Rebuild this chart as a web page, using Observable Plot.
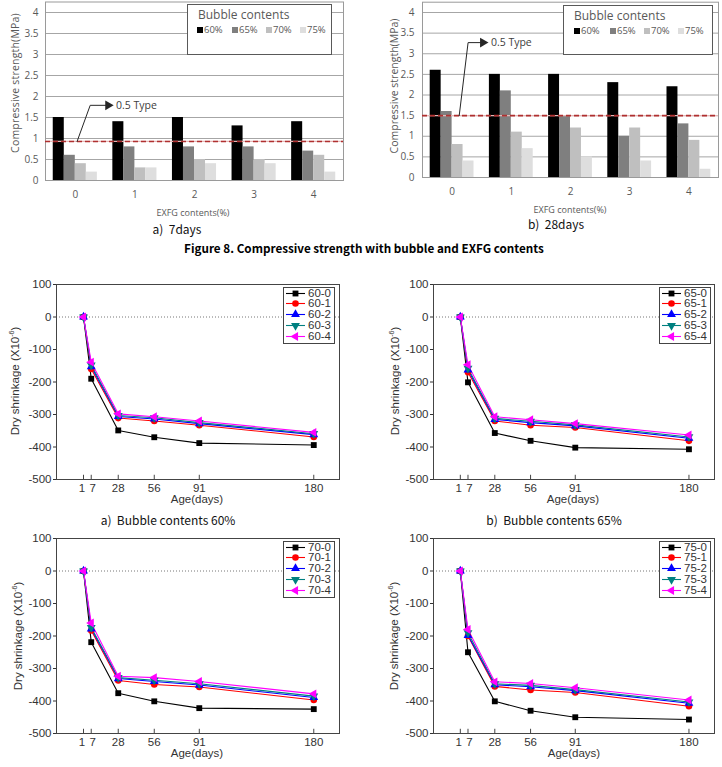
<!DOCTYPE html>
<html><head><meta charset="utf-8">
<script src="https://cdn.jsdelivr.net/npm/d3@7"></script>
<script src="https://cdn.jsdelivr.net/npm/@observablehq/plot@0.6"></script>
<style>
body{margin:0;background:#fff}
#fig{position:relative;width:722px;height:767px;overflow:hidden;background:#fff}
.rot{position:absolute;transform:translate(-50%,-50%) rotate(-90deg);white-space:pre;line-height:1}
.ctr{position:absolute;transform:translate(-50%,-50%);white-space:pre;line-height:1}
.box{position:absolute;background:#fff;box-sizing:border-box}
</style></head><body><div id="fig"></div>
<script>
// ---------- DATA ----------
const exfgGroups = [0, 1, 2, 3, 4];
const bubbleSeries = ["60%", "65%", "70%", "75%"];
const barColors = ["#000000", "#7f7f7f", "#bfbfbf", "#dedede"];
const strengthTicks = [0, 0.5, 1, 1.5, 2, 2.5, 3, 3.5, 4];
// rows: EXFG 0..4, columns: bubble 60,65,70,75 %
const strength7days = [
  [1.5, 0.6, 0.4, 0.2],
  [1.4, 0.8, 0.3, 0.3],
  [1.5, 0.8, 0.5, 0.4],
  [1.3, 0.8, 0.5, 0.4],
  [1.4, 0.7, 0.6, 0.2]
];
const strength28days = [
  [2.6, 1.6, 0.8, 0.4],
  [2.5, 2.1, 1.1, 0.7],
  [2.5, 1.5, 1.2, 0.5],
  [2.3, 1.0, 1.2, 0.4],
  [2.2, 1.3, 0.9, 0.2]
];
const typeLine7days = 0.93;
const typeLine28days = 1.5;
const typeArrow7days = [[0.03, 0.93], [0.25, 1.79], [0.55, 1.79]];
const typeArrow28days = [[0.12, 1.5], [0.27, 3.27], [0.52, 3.27]];

const ages = [1, 7, 28, 56, 91, 180];
const shrinkTicks = [-500, -400, -300, -200, -100, 0, 100];
const shrink60 = [
  [0, -190, -349, -370, -388, -394],
  [0, -160, -311, -320, -333, -369],
  [0, -153, -306, -314, -328, -362],
  [0, -148, -303, -310, -325, -359],
  [0, -139, -298, -307, -320, -355]
];
const shrink65 = [
  [0, -201, -357, -381, -402, -407],
  [0, -170, -320, -333, -340, -381],
  [0, -163, -315, -325, -335, -373],
  [0, -158, -312, -321, -332, -369],
  [0, -147, -307, -316, -328, -363]
];
const shrink70 = [
  [0, -219, -376, -401, -422, -425],
  [0, -183, -337, -349, -357, -397],
  [0, -178, -331, -340, -351, -389],
  [0, -174, -328, -336, -347, -385],
  [0, -160, -324, -328, -340, -378]
];
const shrink75 = [
  [0, -250, -401, -430, -450, -457],
  [0, -200, -355, -366, -374, -416],
  [0, -198, -350, -356, -368, -407],
  [0, -190, -347, -352, -365, -403],
  [0, -180, -341, -346, -359, -397]
];
const lineColors = ["#000000", "#ff0000", "#0000ff", "#008080", "#ff00ff"];
const lineSymbols = ["square", "circle", "triangle", "triangle", "triangle"];
const symbolRotate = [0, 0, 0, 180, -90];

// ---------- HELPERS ----------
const fig = document.getElementById("fig");
function place(el, left, top) {
  el.style.position = "absolute";
  el.style.left = left + "px";
  el.style.top = top + "px";
  fig.appendChild(el);
}
function addText(html, x, y, cls, style) {
  const d = document.createElement("div");
  d.className = cls;
  d.innerHTML = html;
  d.style.left = x + "px";
  d.style.top = y + "px";
  Object.assign(d.style, style || {});
  fig.appendChild(d);
  return d;
}

function barChart(values, typeVal, arrowPts, o) {
  const data = values.flatMap((row, g) => row.map((v, i) => ({g: exfgGroups[g], i, s: bubbleSeries[i], v})));
  const bw = 0.185, half = bw * bubbleSeries.length / 2;
  const end = [arrowPts[arrowPts.length - 1]];
  const svg = Plot.plot({
    width: o.width, height: o.height,
    marginLeft: o.mL, marginRight: o.mR, marginTop: o.mT, marginBottom: o.mB,
    style: {fontFamily: "'Open Sans', sans-serif", fontSize: "10px", color: "#595959", background: "transparent", overflow: "visible"},
    x: {domain: [-0.5, 4.5]},
    y: {domain: [0, 4.25]},
    color: {domain: bubbleSeries, range: barColors},
    marks: [
      Plot.ruleY(strengthTicks, {stroke: "#a6a6a6"}),
      Plot.frame({stroke: "#9a9a9a"}),
      Plot.rect(data, {x1: d => d.g - half + d.i * bw, x2: d => d.g - half + (d.i + 1) * bw, y1: 0, y2: "v", fill: "s"}),
      Plot.ruleY([typeVal], {stroke: "#e6b8b7", strokeWidth: 1.3}),
      Plot.ruleY([typeVal], {stroke: "#b03030", strokeWidth: 1.6, strokeDasharray: "5,3"}),
      Plot.line(arrowPts, {x: d => d[0], y: d => d[1], stroke: "#262626", strokeWidth: 1}),
      Plot.dot(end, {x: d => d[0], y: d => d[1], symbol: "triangle", rotate: 90, r: 3.6, fill: "#262626", stroke: null}),
      Plot.text(end, {x: d => d[0], y: d => d[1], text: () => "0.5 Type", textAnchor: "start", dx: 8, fontSize: 10.5, fill: "#404040"}),
      Plot.axisY(strengthTicks, {tickSize: 0, tickPadding: o.yPad, label: null, tickFormat: d => String(d), fontSize: 10}),
      Plot.axisX(exfgGroups, {tickSize: 0, tickPadding: o.xPad, label: null, tickFormat: d => String(d), fontSize: 10})
    ]
  });
  place(svg, o.left, o.top);
}

function barLegend(left, top, w, h, titleX, titleY, swX, rowY) {
  const box = document.createElement("div");
  box.className = "box";
  Object.assign(box.style, {left: left + "px", top: top + "px", width: w + "px", height: h + "px", border: "1px solid #595959",
    fontFamily: "'Open Sans', sans-serif", color: "#595959"});
  const t = document.createElement("div");
  t.textContent = "Bubble contents";
  Object.assign(t.style, {position: "absolute", left: titleX + "px", top: (titleY - 8) + "px", fontSize: "12px", lineHeight: "16px", whiteSpace: "nowrap"});
  box.appendChild(t);
  bubbleSeries.forEach((s, i) => {
    const sw = document.createElement("div");
    Object.assign(sw.style, {position: "absolute", left: (swX[i] - 3) + "px", top: (rowY - 3) + "px", width: "6px", height: "6px", background: barColors[i]});
    box.appendChild(sw);
    const lb = document.createElement("div");
    lb.textContent = s;
    Object.assign(lb.style, {position: "absolute", left: (swX[i] + 4) + "px", top: (rowY - 7) + "px", fontSize: "9.5px", lineHeight: "14px", whiteSpace: "nowrap"});
    box.appendChild(lb);
  });
  fig.appendChild(box);
}

function lineChart(series, prefix, o) {
  const names = series.map((_, k) => `${prefix}-${k}`);
  const data = series.flatMap((vals, k) => vals.map((v, i) => ({age: ages[i], v, k, name: names[k]})));
  const svg = Plot.plot({
    width: o.width, height: o.height,
    marginLeft: o.mL, marginRight: o.mR, marginTop: o.mT, marginBottom: o.mB,
    style: {fontFamily: "'Liberation Sans', Arial, sans-serif", fontSize: "11px", color: "#333", background: "transparent", overflow: "visible"},
    x: {domain: [-20, 200]},
    y: {domain: [-500, 100]},
    color: {domain: names, range: lineColors},
    symbol: {domain: names, range: lineSymbols},
    marks: [
      Plot.ruleY([0], {stroke: "#777", strokeDasharray: "1,2"}),
      Plot.frame({stroke: "#444"}),
      Plot.ruleX(ages, {x: d => d, y1: -500, y2: -487, stroke: "#444"}),
      Plot.line(data, {x: "age", y: "v", z: "name", stroke: "name", strokeWidth: 1.1}),
      Plot.dot(data, {x: "age", y: "v", symbol: "name", fill: "name", stroke: null, r: 3.3, rotate: d => symbolRotate[d.k]}),
      Plot.axisY(shrinkTicks, {tickSize: 3, tickPadding: 2, label: null, tickFormat: d => String(d), fontSize: 11.5}),
      Plot.axisX(ages.slice(0, 1), {tickSize: 0, tickPadding: 4, label: null, tickFormat: d => String(d), fontSize: 11.5, dx: -1.5}),
      Plot.axisX(ages.slice(1, 2), {tickSize: 0, tickPadding: 4, label: null, tickFormat: d => String(d), fontSize: 11.5, dx: 1.5}),
      Plot.axisX(ages.slice(2), {tickSize: 0, tickPadding: 4, label: null, tickFormat: d => String(d), fontSize: 11.5})
    ]
  });
  place(svg, o.left, o.top);
  // legend box
  const box = document.createElement("div");
  box.className = "box";
  Object.assign(box.style, {left: o.legX + "px", top: o.legY + "px", width: "52px", height: "57px", border: "1px solid #444",
    fontFamily: "'Liberation Sans', Arial, sans-serif", color: "#333"});
  const syms = {square: d3.symbolSquare, circle: d3.symbolCircle, triangle: d3.symbolTriangle};
  names.forEach((n, k) => {
    const cy = 5 + k * 10.8;
    const ns = "http://www.w3.org/2000/svg";
    const s = document.createElementNS(ns, "svg");
    s.setAttribute("width", 22); s.setAttribute("height", 11);
    Object.assign(s.style, {position: "absolute", left: "1px", top: (cy - 5.5) + "px"});
    const ln = document.createElementNS(ns, "line");
    ln.setAttribute("x1", 1); ln.setAttribute("x2", 20); ln.setAttribute("y1", 5.5); ln.setAttribute("y2", 5.5);
    ln.setAttribute("stroke", lineColors[k]); ln.setAttribute("stroke-width", 1.1);
    s.appendChild(ln);
    const p = document.createElementNS(ns, "path");
    p.setAttribute("d", d3.symbol(syms[lineSymbols[k]], Math.PI * 3.3 * 3.3)());
    p.setAttribute("transform", `translate(10.5,5.5) rotate(${symbolRotate[k]})`);
    p.setAttribute("fill", lineColors[k]);
    s.appendChild(p);
    box.appendChild(s);
    const lb = document.createElement("div");
    lb.textContent = n;
    Object.assign(lb.style, {position: "absolute", left: "24px", top: (cy - 6.5) + "px", fontSize: "11.5px", lineHeight: "13px", whiteSpace: "nowrap"});
    box.appendChild(lb);
  });
  fig.appendChild(box);
}

// ---------- TOP: BAR CHARTS ----------
barChart(strength7days, typeLine7days, typeArrow7days, {left: 0, top: 0, width: 361, height: 200, mL: 45, mR: 18, mT: 1.5, mB: 20, yPad: 7, xPad: 10});
barChart(strength28days, typeLine28days, typeArrow28days, {left: 361, top: 0, width: 361, height: 200, mL: 61, mR: 4, mT: 1.7, mB: 23, yPad: 8, xPad: 10});
barLegend(187, 4, 145, 51, 10, 10, [12, 47, 81, 115], 25);
barLegend(563, 5, 150, 50, 10, 10, [13, 49, 83, 117], 25);

const barFont = {fontFamily: "'Open Sans', sans-serif", color: "#595959"};
addText("Compressive strength(MPa)", 15, 83, "rot", {...barFont, fontSize: "10.5px", letterSpacing: "0.2px"});
addText("Compressive strength(MPa)", 394, 86, "rot", {...barFont, fontSize: "10.5px"});
addText("EXFG contents(%)", 193, 212, "ctr", {...barFont, fontSize: "9px"});
addText("EXFG contents(%)", 570, 209, "ctr", {...barFont, fontSize: "9px"});

const capFont = {fontFamily: "'Noto Sans CJK KR', 'Liberation Sans', sans-serif", color: "#111"};
addText("a)  7days", 177, 229, "ctr", {...capFont, fontSize: "12px"});
addText("b)  28days", 556, 224, "ctr", {...capFont, fontSize: "12px"});
addText("Figure 8. Compressive strength with bubble and EXFG contents", 364, 248, "ctr", {...capFont, fontSize: "11.7px", fontWeight: "bold", color: "#000"});

// ---------- BOTTOM: LINE CHARTS ----------
lineChart(shrink60, "60", {left: 0, top: 270, width: 361, height: 240, mL: 56, mR: 22, mT: 14, mB: 31, legX: 283, legY: 287});
lineChart(shrink65, "65", {left: 361, top: 270, width: 361, height: 240, mL: 72, mR: 8, mT: 14, mB: 31, legX: 659, legY: 287});
lineChart(shrink70, "70", {left: 0, top: 530, width: 361, height: 237, mL: 56, mR: 22, mT: 8, mB: 34, legX: 283, legY: 541});
lineChart(shrink75, "75", {left: 361, top: 530, width: 361, height: 237, mL: 72, mR: 8, mT: 8, mB: 34, legX: 659, legY: 541});

const lnFont = {fontFamily: "'Liberation Sans', Arial, sans-serif", color: "#333"};
const yTitle = "Dry shrinkage (X10<sup style='font-size:7px'>-6</sup>)";
addText(yTitle, 15, 381, "rot", {...lnFont, fontSize: "11.5px"});
addText(yTitle, 395, 381, "rot", {...lnFont, fontSize: "11.5px"});
addText(yTitle, 18, 636, "rot", {...lnFont, fontSize: "11.5px"});
addText(yTitle, 394, 636, "rot", {...lnFont, fontSize: "11.5px"});
addText("Age(days)", 197, 500, "ctr", {...lnFont, fontSize: "11.5px"});
addText("Age(days)", 573, 500, "ctr", {...lnFont, fontSize: "11.5px"});
addText("Age(days)", 197, 754, "ctr", {...lnFont, fontSize: "11.5px"});
addText("Age(days)", 574, 754, "ctr", {...lnFont, fontSize: "11.5px"});
addText("a)  Bubble contents 60%", 168, 520, "ctr", {...capFont, fontSize: "12px"});
addText("b)  Bubble contents 65%", 554, 520, "ctr", {...capFont, fontSize: "12px"});
</script></body></html>
